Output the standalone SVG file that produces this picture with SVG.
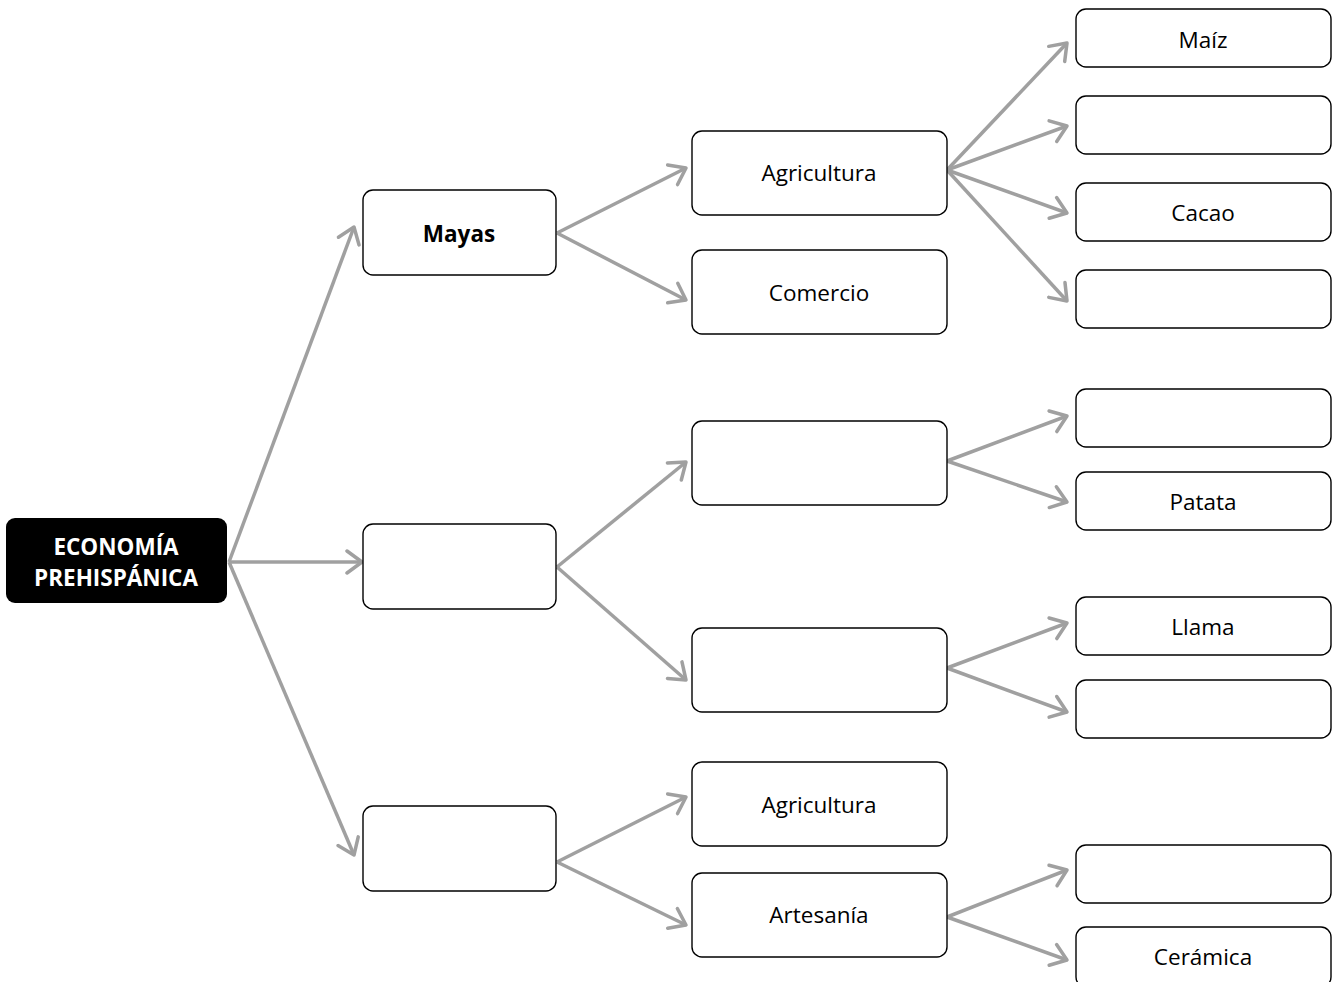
<svg xmlns="http://www.w3.org/2000/svg" width="1337" height="982" viewBox="0 0 1337 982">
<style>
.box{fill:#fff;stroke:#000;stroke-width:1.4}
.root{fill:#000}
.t{font-family:"Open Sans","Noto Sans",sans-serif;font-size:22.5px;fill:#000;text-anchor:middle;dominant-baseline:central}
.b{font-weight:bold}
.w{fill:#fff}
.c{fill:none;stroke:#a0a0a0;stroke-width:3.5;marker-end:url(#ah)}
</style>
<defs>
<marker id="ah" markerUnits="userSpaceOnUse" markerWidth="30" markerHeight="30" refX="17" refY="15" orient="auto" viewBox="0 0 30 30">
<path d="M2,4 L17,15 L2,26" fill="none" stroke="#a0a0a0" stroke-width="3.5" stroke-linecap="round" stroke-linejoin="round"/>
</marker>
</defs>
<g id="connectors">
<line class="c" x1="229" y1="562" x2="354" y2="227"/>
<line class="c" x1="229" y1="562" x2="362" y2="562"/>
<line class="c" x1="229" y1="562" x2="354" y2="855"/>
<line class="c" x1="557" y1="233" x2="686" y2="168"/>
<line class="c" x1="557" y1="233" x2="686" y2="300"/>
<line class="c" x1="557" y1="567" x2="686" y2="462"/>
<line class="c" x1="557" y1="567" x2="686" y2="680"/>
<line class="c" x1="557" y1="862" x2="686" y2="797"/>
<line class="c" x1="557" y1="862" x2="686" y2="925"/>
<line class="c" x1="947" y1="170" x2="1067" y2="43"/>
<line class="c" x1="947" y1="170" x2="1067" y2="126"/>
<line class="c" x1="947" y1="170" x2="1067" y2="213"/>
<line class="c" x1="947" y1="170" x2="1067" y2="301"/>
<line class="c" x1="947" y1="461" x2="1067" y2="416"/>
<line class="c" x1="947" y1="461" x2="1067" y2="502"/>
<line class="c" x1="947" y1="668" x2="1067" y2="623"/>
<line class="c" x1="947" y1="668" x2="1067" y2="712"/>
<line class="c" x1="947" y1="917" x2="1067" y2="870"/>
<line class="c" x1="947" y1="917" x2="1067" y2="960"/>
</g>
<g id="root"><rect class="root" x="6" y="518" width="221" height="85" rx="9"/><text class="t b w" x="116" y="546">ECONOMÍA</text><text class="t b w" x="116" y="577">PREHISPÁNICA</text></g>
<g id="mayas"><rect class="box" x="363" y="190" width="193" height="85" rx="10"/><text class="t b" x="459" y="233">Mayas</text></g>
<g id="l1b"><rect class="box" x="363" y="524" width="193" height="85" rx="10"/></g>
<g id="l1c"><rect class="box" x="363" y="806" width="193" height="85" rx="10"/></g>
<g id="agri1"><rect class="box" x="692" y="131" width="255" height="84" rx="10"/><text class="t" x="819" y="172">Agricultura</text></g>
<g id="comercio"><rect class="box" x="692" y="250" width="255" height="84" rx="10"/><text class="t" x="819" y="292">Comercio</text></g>
<g id="l2c"><rect class="box" x="692" y="421" width="255" height="84" rx="10"/></g>
<g id="l2d"><rect class="box" x="692" y="628" width="255" height="84" rx="10"/></g>
<g id="agri2"><rect class="box" x="692" y="762" width="255" height="84" rx="10"/><text class="t" x="819" y="804">Agricultura</text></g>
<g id="artesania"><rect class="box" x="692" y="873" width="255" height="84" rx="10"/><text class="t" x="819" y="914">Artesanía</text></g>
<g id="maiz"><rect class="box" x="1076" y="9" width="255" height="58" rx="10"/><text class="t" x="1203" y="39">Maíz</text></g>
<g id="l3b"><rect class="box" x="1076" y="96" width="255" height="58" rx="10"/></g>
<g id="cacao"><rect class="box" x="1076" y="183" width="255" height="58" rx="10"/><text class="t" x="1203" y="212">Cacao</text></g>
<g id="l3d"><rect class="box" x="1076" y="270" width="255" height="58" rx="10"/></g>
<g id="l3e"><rect class="box" x="1076" y="389" width="255" height="58" rx="10"/></g>
<g id="patata"><rect class="box" x="1076" y="472" width="255" height="58" rx="10"/><text class="t" x="1203" y="501">Patata</text></g>
<g id="llama"><rect class="box" x="1076" y="597" width="255" height="58" rx="10"/><text class="t" x="1203" y="626">Llama</text></g>
<g id="l3h"><rect class="box" x="1076" y="680" width="255" height="58" rx="10"/></g>
<g id="l3i"><rect class="box" x="1076" y="845" width="255" height="58" rx="10"/></g>
<g id="ceramica"><rect class="box" x="1076" y="927" width="255" height="60" rx="10"/><text class="t" x="1203" y="956">Cerámica</text></g>
</svg>
